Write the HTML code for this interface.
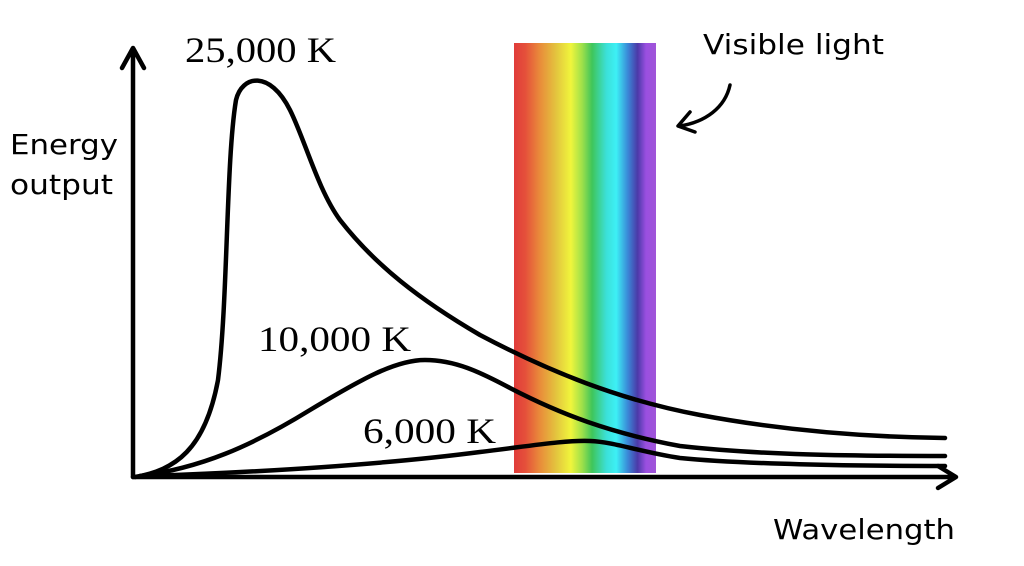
<!DOCTYPE html>
<html><head><style>body{margin:0;background:#fff}svg{display:block}</style></head>
<body>
<svg width="1024" height="566" viewBox="0 0 1024 566" xmlns="http://www.w3.org/2000/svg">
<defs>
<linearGradient id="sp" x1="0" x2="1" y1="0" y2="0">
<stop offset="0" stop-color="#e03c3a"/>
<stop offset="0.08" stop-color="#e5503a"/>
<stop offset="0.18" stop-color="#e98a3a"/>
<stop offset="0.3" stop-color="#e3c63e"/>
<stop offset="0.4" stop-color="#f0f53c"/>
<stop offset="0.48" stop-color="#9ee04a"/>
<stop offset="0.55" stop-color="#3fc55a"/>
<stop offset="0.65" stop-color="#3be0d8"/>
<stop offset="0.72" stop-color="#3df0f5"/>
<stop offset="0.8" stop-color="#3a8ad8"/>
<stop offset="0.87" stop-color="#4b3aa8"/>
<stop offset="0.93" stop-color="#9a4fe0"/>
<stop offset="1" stop-color="#a055d8"/>
</linearGradient>
</defs>
<rect x="514" y="43" width="142" height="430" fill="url(#sp)"/>
<g fill="none" stroke="#000" stroke-width="4.5" stroke-linecap="round" stroke-linejoin="round">
<path d="M133,477 L133,50 M122,68 L133,48 L144,68"/>
<path d="M133,477 L953,477 M938,466 L956,477 L938,488"/>
<path d="M135,477 C175,470 205,450 218,380 C228,300 226,160 236,100 C242,75 270,70 290,110 C305,140 318,190 340,220 C375,265 420,300 480,335 C550,372 620,400 700,415 C780,430 860,437 945,438"/>
<path d="M140,476 C200,468 250,447 310,410 C360,380 395,360 425,360 C455,360 480,372 510,388 C560,414 610,433 680,446 C760,455 850,456 945,456"/>
<path d="M150,476 C260,472 380,465 480,452 C530,446 565,440 590,441 C615,442 640,452 680,458 C740,464 850,466 945,466"/>
<path d="M730,85 C725,108 705,122 680,126 M690,112 L678,126 L695,132" stroke-width="3.5"/>
</g>
<g font-family="Liberation Serif, serif" font-size="36" fill="#000">
<text x="185" y="62" textLength="151" lengthAdjust="spacingAndGlyphs">25,000 K</text>
<text x="258" y="351" textLength="153" lengthAdjust="spacingAndGlyphs">10,000 K</text>
<text x="363" y="443" textLength="133" lengthAdjust="spacingAndGlyphs">6,000 K</text>
</g>
<g font-family="DejaVu Sans, sans-serif" font-size="28" fill="#000">
<text x="10" y="154" textLength="108" lengthAdjust="spacingAndGlyphs">Energy</text>
<text x="10" y="194" textLength="103" lengthAdjust="spacingAndGlyphs">output</text>
<text x="703" y="54" textLength="181" lengthAdjust="spacingAndGlyphs">Visible light</text>
<text x="773" y="539" textLength="182" lengthAdjust="spacingAndGlyphs">Wavelength</text>
</g>
</svg>
</body></html>
